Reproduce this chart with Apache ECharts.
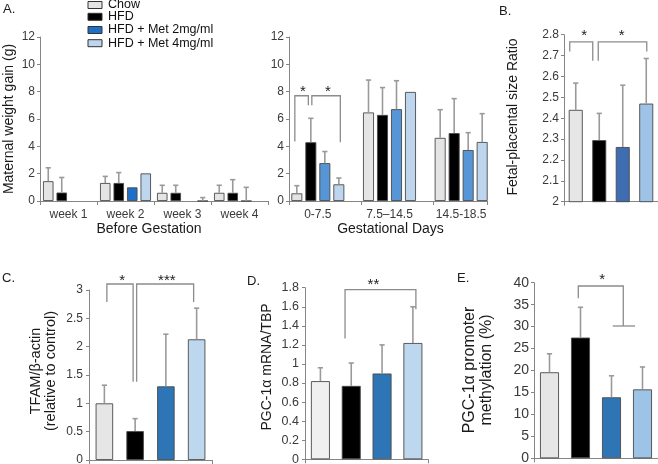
<!DOCTYPE html>
<html><head><meta charset="utf-8">
<script src="https://cdn.jsdelivr.net/npm/echarts@6/dist/echarts.min.js"></script>
<style>html,body{margin:0;padding:0;background:#fff}#c{width:658px;height:464px}</style>
</head><body><div id="c"></div>
<script>
// ---------------- data ----------------
const groups = ['Chow', 'HFD', 'HFD + Met 2mg/ml', 'HFD + Met 4mg/ml'];

// Panel A, before gestation
const beforeCats = ['week 1', 'week 2', 'week 3', 'week 4'];
const beforeChow = [1.45, 1.32, 0.6, 0.6];
const beforeChowErr = [2.43, 1.8, 1.15, 1.15];
const beforeHFD = [0.62, 1.32, 0.6, 0.6];
const beforeHFDErr = [1.72, 2.08, 1.15, 1.56];
const beforeMet2 = [null, 1.0, null, 0];
const beforeMet2Err = [null, null, null, 1.0];
const beforeMet4 = [null, 2.02, 0, null];
const beforeMet4Err = [null, null, 0.25, null];

// Panel A, gestational days
const gestCats = ['0-7.5', '7.5\u201314.5', '14.5-18.5'];
const gestChow = [0.56, 6.48, 4.62];
const gestChowErr = [1.12, 8.85, 6.68];
const gestHFD = [4.3, 6.3, 4.97];
const gestHFDErr = [6.05, 8.3, 7.49];
const gestMet2 = [2.77, 6.72, 3.73];
const gestMet2Err = [3.62, 8.8, 5.0];
const gestMet4 = [1.22, 7.98, 4.32];
const gestMet4Err = [1.68, null, 6.39];

// Panel B
const ratioVals = [2.44, 2.295, 2.262, 2.47];
const ratioErr = [2.568, 2.423, 2.558, 2.686];
// Panel C
const tfamVals = [1.0, 0.51, 1.3, 2.13];
const tfamErr = [1.32, 0.73, 2.22, 2.68];
// Panel D
const pgcVals = [0.82, 0.77, 0.9, 1.22];
const pgcErr = [0.96, 1.01, 1.2, 1.6];
// Panel E
const methVals = [19.6, 27.5, 13.9, 15.7];
const methErr = [23.8, 34.4, 18.8, 20.8];

// axis ranges / tick labels
const axisA = {min: 0, max: 12, interval: 2};
const axisB = {min: 2, max: 2.8, interval: 0.1};
const axisC = {min: 0, max: 3, interval: 0.5};
const axisD = {min: 0, max: 1.8, interval: 0.2};
const axisE = {min: 0, max: 40, interval: 5};

// significance annotations (category, slot, y value)
const starsA = [['*', 0, 0.5, 8.25], ['*', 0, 2.3, 8.25]];
const starsB = [['*', 0.4, 2.81], ['*', 2.0, 2.81]];
const starsC = [['*', 0.58, 3.224], ['***', 2.03, 3.224]];
const starsD = [['**', 1.72, 1.87]];
const starsE = [['*', 1.7, 41.5]];

// ---------------- style ----------------
const FONT = "'Liberation Sans', Arial, Helvetica, sans-serif";
const AX = '#858585', LBL = '#3a3a3a', ERR = '#9a9a9a', BR = '#8c8c8c';
const BORDER = {borderColor: '#4a4a4a', borderWidth: 0.9};

const palA1 = ['#e4e4e4', '#000000', '#1f6fc6', '#bdd6ee'];
const palA2 = ['#e4e4e4', '#000000', '#5796d6', '#bdd6ee'];
const palB = ['#e6e6e6', '#000000', '#3f6db2', '#9fc3e7'];
const palC = ['#e6e6e6', '#000000', '#2e75b6', '#bdd7ee'];
const palD = ['#f0f0f0', '#000000', '#2e75b6', '#bdd7ee'];
const palE = ['#e6e6e6', '#000000', '#2e75b6', '#9dc3e6'];

const slotA1 = {n: 4, w: 10.5, g: 3};
const slotA2 = {n: 5, w: 11, g: 3};
const slotB = {n: 1, w: 14, g: 0};
const slotC = {n: 1, w: 17.5, g: 0};
const slotD = {n: 1, w: 19, g: 0};
const slotE = {n: 1, w: 19, g: 0};

const chart = echarts.init(document.getElementById('c'), null, {renderer: 'canvas', width: 658, height: 464});

function catX(gridIdx, data, opts) {
  return Object.assign({
    gridIndex: gridIdx, type: 'category', data: data,
    axisLine: {show: true, lineStyle: {color: AX, width: 1}},
    axisTick: {show: true, length: 4, lineStyle: {color: AX}},
    axisLabel: {show: false},
    splitLine: {show: false}
  }, opts || {});
}
function valY(gridIdx, rng, fs, margin) {
  return Object.assign({
    gridIndex: gridIdx, type: 'value',
    axisLine: {show: true, lineStyle: {color: AX, width: 1}},
    axisTick: {show: true, length: 3, lineStyle: {color: AX}},
    axisLabel: {fontSize: fs, color: LBL, fontFamily: FONT, margin: margin},
    splitLine: {show: false}
  }, rng);
}
function errRender(cfg) {
  return function (params, api) {
    const c = api.value(0), s = api.value(1), v = api.value(2), e = api.value(3);
    const b = api.coord([c, v]);
    const t = api.coord([c, e]);
    const total = cfg.n * cfg.w + (cfg.n - 1) * cfg.g;
    const x = b[0] - total / 2 + s * (cfg.w + cfg.g) + cfg.w / 2;
    return {type: 'group', children: [
      {type: 'line', shape: {x1: x, y1: b[1], x2: x, y2: t[1]}, style: {stroke: ERR, lineWidth: 1.6}},
      {type: 'line', shape: {x1: x - 2.6, y1: t[1], x2: x + 2.6, y2: t[1]}, style: {stroke: ERR, lineWidth: 1.6}}
    ]};
  };
}
function errSeries(xi, yi, cfg, valsList, errsList) {
  const data = [];
  valsList.forEach((vals, s) => {
    vals.forEach((v, c) => {
      const e = errsList[s][c];
      if (e !== null && e !== undefined) data.push([c, s, v === null ? 0 : v, e]);
    });
  });
  return {type: 'custom', xAxisIndex: xi, yAxisIndex: yi, z: 4, renderItem: errRender(cfg),
    dimensions: ['c', 's', 'v', 'e'], encode: {x: 'c', y: ['v', 'e']}, data: data, silent: true};
}

const series = [];
const firstSeries = {};
// A left
[beforeChow, beforeHFD, beforeMet2, beforeMet4].forEach((arr, i) => {
  if (i === 0) firstSeries.A1 = series.length;
  series.push({type: 'bar', name: groups[i], xAxisIndex: 0, yAxisIndex: 0, data: arr,
    barWidth: slotA1.w, barGap: (slotA1.g / slotA1.w * 100) + '%',
    itemStyle: Object.assign({color: palA1[i]}, BORDER)});
});
series.push(errSeries(0, 0, slotA1, [beforeChow, beforeHFD, beforeMet2, beforeMet4],
  [beforeChowErr, beforeHFDErr, beforeMet2Err, beforeMet4Err]));
// A right (5th empty slot as in the original layout)
[gestChow, gestHFD, gestMet2, gestMet4, gestCats.map(() => null)].forEach((arr, i) => {
  if (i === 0) firstSeries.A2 = series.length;
  series.push({type: 'bar', name: groups[i] || 'slot', xAxisIndex: 1, yAxisIndex: 1, data: arr,
    barWidth: slotA2.w, barGap: (slotA2.g / slotA2.w * 100) + '%',
    itemStyle: Object.assign({color: palA2[i] || '#fff'}, BORDER)});
});
series.push(errSeries(1, 1, slotA2, [gestChow, gestHFD, gestMet2, gestMet4],
  [gestChowErr, gestHFDErr, gestMet2Err, gestMet4Err]));

function simplePanel(key, xi, pal, cfg, vals, errs) {
  firstSeries[key] = series.length;
  series.push({type: 'bar', xAxisIndex: xi, yAxisIndex: xi, barWidth: cfg.w,
    data: vals.map((v, i) => ({value: v, itemStyle: Object.assign({color: pal[i]}, BORDER)}))});
  const data = vals.map((v, i) => [i, 0, v, errs[i]]);
  series.push({type: 'custom', xAxisIndex: xi, yAxisIndex: xi, z: 4, renderItem: errRender(cfg),
    dimensions: ['c', 's', 'v', 'e'], encode: {x: 'c', y: ['v', 'e']}, data: data, silent: true});
}
simplePanel('B', 3, palB, slotB, ratioVals, ratioErr);
simplePanel('C', 4, palC, slotC, tfamVals, tfamErr);
simplePanel('D', 5, palD, slotD, pgcVals, pgcErr);
simplePanel('E', 6, palE, slotE, methVals, methErr);

const gridBase = {containLabel: false, outerBoundsMode: 'none'};
const option = {
  animation: false,
  textStyle: {fontFamily: FONT},
  grid: [
    Object.assign({left: 40, top: 37, width: 228, height: 164}, gridBase),
    Object.assign({left: 289, top: 37, width: 215, height: 164}, gridBase),
    Object.assign({left: 289, top: 37, width: 198, height: 164}, gridBase),
    Object.assign({left: 564, top: 34.7, width: 94, height: 167}, gridBase),
    Object.assign({left: 89, top: 290, width: 123, height: 170}, gridBase),
    Object.assign({left: 305, top: 287.7, width: 123.3, height: 171.6}, gridBase),
    Object.assign({left: 534, top: 282.7, width: 124, height: 175.6}, gridBase)
  ],
  xAxis: [
    catX(0, beforeCats, {axisLabel: {show: true, fontSize: 12, color: LBL, fontFamily: FONT, margin: 8}}),
    catX(1, gestCats, {axisLine: {show: false}, axisTick: {show: false},
      axisLabel: {show: true, fontSize: 12, color: LBL, fontFamily: FONT, margin: 8, padding: [0, 14, 0, 0]}}),
    {gridIndex: 2, type: 'value', min: 0, max: 2.75, interval: 1,
      axisLine: {show: true, lineStyle: {color: AX, width: 1}},
      axisTick: {show: true, length: 4, lineStyle: {color: AX}},
      axisLabel: {show: false}, splitLine: {show: false}},
    catX(3, groups),
    catX(4, groups),
    catX(5, groups),
    catX(6, groups)
  ],
  yAxis: [
    valY(0, axisA, 12, 5),
    valY(1, axisA, 12, 5),
    {gridIndex: 2, type: 'value', min: 0, max: 12, show: false},
    valY(3, axisB, 12, 5),
    valY(4, axisC, 12, 6),
    valY(5, axisD, 12.5, 6),
    valY(6, axisE, 14, 5)
  ],
  series: series
};
chart.setOption(option);

// ---------------- annotations ----------------
function pt(key, cfg, cat, slot, dx, yv) {
  const si = firstSeries[key];
  const a = chart.convertToPixel({seriesIndex: si}, [0, yv]);
  const b = chart.convertToPixel({seriesIndex: si}, [1, yv]);
  const x0 = a[0] + (b[0] - a[0]) * cat;
  const total = cfg.n * cfg.w + (cfg.n - 1) * cfg.g;
  return [x0 - total / 2 + slot * (cfg.w + cfg.g) + cfg.w / 2 + dx, a[1]];
}
const els = [];
function text(t, x, y, o) {
  o = o || {};
  els.push({type: 'text', x: x, y: y, rotation: o.rot || 0, z: 20, silent: true,
    style: {text: t, fontSize: o.fs || 14, fontFamily: FONT, fill: o.fill || '#1a1a1a',
      align: o.align || 'center', verticalAlign: 'middle'}});
}
function poly(points, w) {
  els.push({type: 'polyline', z: 15, silent: true, shape: {points: points},
    style: {stroke: BR, lineWidth: w || 1.3, fill: null}});
}
function star(t, p) { text(t, p[0], p[1] + 3.5, {fs: 15, fill: '#222'}); }

// A right brackets
poly([pt('A2', slotA2, 0, 0, -2, 4.35), pt('A2', slotA2, 0, 0, -2, 7.7), pt('A2', slotA2, 0, 1, -2.5, 7.7), pt('A2', slotA2, 0, 1, -2.5, 7.0)]);
poly([pt('A2', slotA2, 0, 1, 1, 7.0), pt('A2', slotA2, 0, 1, 1, 7.7), pt('A2', slotA2, 0, 3, 1.5, 7.7), pt('A2', slotA2, 0, 3, 1.5, 4.3)]);
starsA.forEach(s => star(s[0], pt('A2', slotA2, s[1], s[2], -1, s[3])));
// B brackets
poly([pt('B', slotB, 0, 0, -6, 2.719), pt('B', slotB, 0, 0, -6, 2.766), pt('B', slotB, 1, 0, -6.5, 2.766), pt('B', slotB, 1, 0, -6.5, 2.675)]);
poly([pt('B', slotB, 1, 0, -1, 2.675), pt('B', slotB, 1, 0, -1, 2.766), pt('B', slotB, 3, 0, 0.5, 2.766), pt('B', slotB, 3, 0, 0.5, 2.719)]);
starsB.forEach(s => star(s[0], pt('B', slotB, s[1], 0, -1, s[2])));
// C brackets
poly([pt('C', slotC, 0, 0, 2.5, 2.79), pt('C', slotC, 0, 0, 2.5, 3.106), pt('C', slotC, 1, 0, -2, 3.106), pt('C', slotC, 1, 0, -2, 1.38)]);
poly([pt('C', slotC, 1, 0, 1.5, 1.38), pt('C', slotC, 1, 0, 1.5, 3.106), pt('C', slotC, 3, 0, -3, 3.106), pt('C', slotC, 3, 0, -3, 2.79)]);
starsC.forEach(s => star(s[0], pt('C', slotC, s[1], 0, 0, s[2])));
// D bracket
poly([pt('D', slotD, 1, 0, -6.2, 1.266), pt('D', slotD, 1, 0, -6.2, 1.78), pt('D', slotD, 3, 0, 3, 1.78), pt('D', slotD, 3, 0, 3, 1.574)]);
starsD.forEach(s => star(s[0], pt('D', slotD, s[1], 0, 0, s[2])));
// E bracket
poly([pt('E', slotE, 1, 0, -2.2, 36.45), pt('E', slotE, 1, 0, -2.2, 39.25), pt('E', slotE, 2.38, 0, 0, 39.25), pt('E', slotE, 2.38, 0, 0, 30.14)]);
poly([pt('E', slotE, 2.04, 0, 0, 30.14), pt('E', slotE, 2.76, 0, 0, 30.14)]);
starsE.forEach(s => star(s[0], pt('E', slotE, s[1], 0, 0, s[2])));

// panel letters
text('A.', 3, 9, {fs: 13, align: 'left'});
text('B.', 499, 11, {fs: 13, align: 'left'});
text('C.', 2, 278, {fs: 13, align: 'left'});
text('D.', 247, 281, {fs: 13, align: 'left'});
text('E.', 457, 278, {fs: 13, align: 'left'});
// axis titles
const R = Math.PI / 2;
text('Maternal weight gain (g)', 9, 119, {rot: R, fs: 14});
text('Before Gestation', 149, 229, {fs: 14});
text('Gestational Days', 390.5, 229, {fs: 14});
text('Fetal-placental size Ratio', 513.5, 117, {rot: R, fs: 14});
text('TFAM/\u03b2-actin', 35.5, 371, {rot: R, fs: 14.5});
text('(relative to control)', 50.5, 371, {rot: R, fs: 14.5});
text('PGC-1\u03b1 mRNA/TBP', 267, 367, {rot: R, fs: 14});
text('PGC-1\u03b1 promoter', 470, 370, {rot: R, fs: 16});
text('methylation (%)', 487, 370, {rot: R, fs: 16});
// legend
const legY = [5, 16.8, 30, 43.2];
groups.forEach((g, i) => {
  els.push({type: 'rect', z: 20, silent: true, shape: {x: 88, y: legY[i] - 3.5, width: 14, height: 7},
    style: {fill: palA1[i], stroke: '#333', lineWidth: 1}});
  text(g, 108, legY[i], {fs: 12.5, align: 'left', fill: '#111'});
});

chart.setOption({graphic: {elements: els}});
</script>
</body></html>
